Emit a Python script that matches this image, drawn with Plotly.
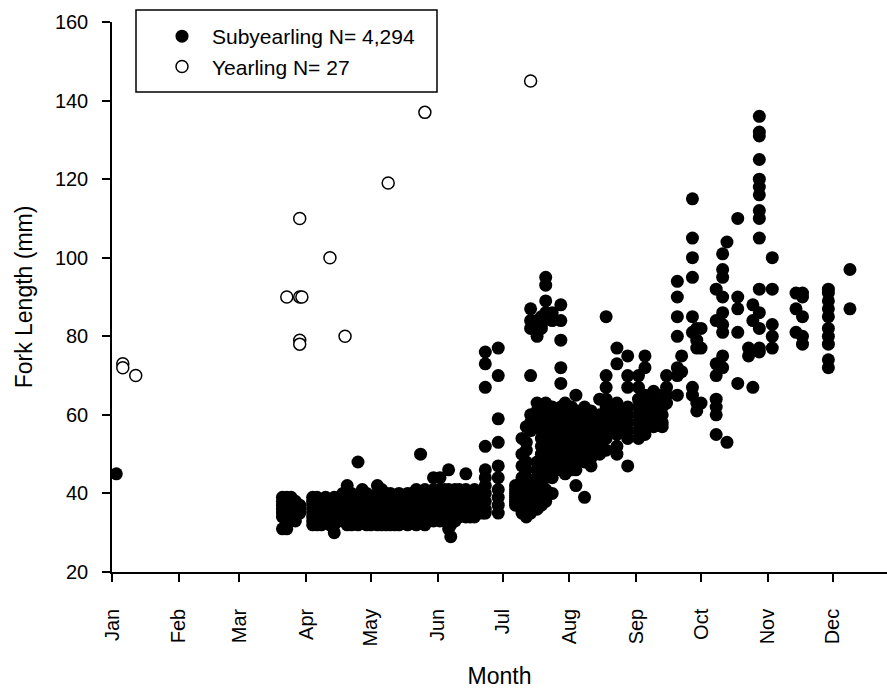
import plotly.graph_objects as go

# ---------------- data ----------------
month_ticks = ["2005-01-01", "2005-02-01", "2005-03-01", "2005-04-01", "2005-05-01", "2005-06-01",
               "2005-07-01", "2005-08-01", "2005-09-01", "2005-10-01", "2005-11-01", "2005-12-01"]
month_labels = ["Jan", "Feb", "Mar", "Apr", "May", "Jun", "Jul", "Aug", "Sep", "Oct", "Nov", "Dec"]
y_ticks = [20, 40, 60, 80, 100, 120, 140, 160]

# Subyearling: sampling dates and fork lengths (mm) at each date
sub_dates = [
    "2005-01-03",
    "2005-03-21", "2005-03-23", "2005-03-25", "2005-03-27", "2005-03-29",
    "2005-04-04", "2005-04-06", "2005-04-08", "2005-04-10", "2005-04-12", "2005-04-14",
    "2005-04-16", "2005-04-18", "2005-04-20", "2005-04-22", "2005-04-25", "2005-04-27",
    "2005-04-29", "2005-05-01", "2005-05-04", "2005-05-06", "2005-05-08", "2005-05-10",
    "2005-05-12", "2005-05-14", "2005-05-16", "2005-05-18", "2005-05-20", "2005-05-22",
    "2005-05-24", "2005-05-26", "2005-05-28", "2005-05-30", "2005-06-02", "2005-06-04",
    "2005-06-06", "2005-06-07", "2005-06-09", "2005-06-11", "2005-06-14", "2005-06-16",
    "2005-06-18", "2005-06-20", "2005-06-22", "2005-06-23", "2005-06-29",
    "2005-07-07", "2005-07-10", "2005-07-12", "2005-07-14", "2005-07-17", "2005-07-19",
    "2005-07-21", "2005-07-24", "2005-07-28", "2005-07-30", "2005-08-02", "2005-08-04",
    "2005-08-08", "2005-08-11", "2005-08-15",
    "2005-08-18", "2005-08-23", "2005-08-28", "2005-09-02", "2005-09-05", "2005-09-09",
    "2005-09-13", "2005-09-15",
    "2005-09-20", "2005-09-22", "2005-09-27", "2005-09-29", "2005-10-01", "2005-10-08",
    "2005-10-11", "2005-10-13", "2005-10-18", "2005-10-23", "2005-10-25", "2005-10-28",
    "2005-11-03", "2005-11-14", "2005-11-17", "2005-11-29", "2005-12-09",
]
sub_lengths = [
    [45],
    [39, 38, 37, 36, 35, 34, 31], [39, 38, 37, 36, 35, 34, 33, 31], [39, 38, 37, 36, 35, 34, 33],
    [38, 37, 36, 35, 34, 33], [37, 36, 35],
    [39, 38, 37, 36, 35, 34, 33, 32], [39, 38, 37, 36, 35, 34, 33, 32], [38, 37, 36, 35, 34, 33, 32],
    [39, 38, 37, 36, 35, 34, 33], [38, 37, 36, 35, 34, 33, 32], [39, 38, 37, 36, 35, 34, 33, 32, 30],
    [38, 37, 36, 35, 34, 33], [40, 39, 38, 37, 36, 35, 34, 33], [42, 39, 38, 37, 36, 35, 34, 33, 32],
    [40, 39, 38, 37, 36, 35, 34, 33, 32], [48, 39, 38, 37, 36, 35, 34, 33, 32], [41, 39, 38, 37, 36, 35, 34, 33],
    [40, 39, 38, 37, 36, 35, 34, 33, 32], [39, 38, 37, 36, 35, 34, 33, 32], [42, 40, 39, 38, 37, 36, 35, 34, 33, 32],
    [41, 39, 38, 37, 36, 35, 34, 33, 32], [40, 39, 38, 37, 36, 35, 34, 33, 32], [40, 38, 37, 36, 35, 34, 33, 32],
    [39, 38, 37, 36, 35, 34, 33, 32], [40, 39, 38, 37, 36, 35, 34, 33, 32], [39, 38, 37, 36, 35, 34, 33],
    [40, 39, 38, 37, 36, 35, 34, 33, 32], [40, 39, 38, 37, 36, 35, 34, 33], [41, 39, 38, 37, 36, 35, 34, 33, 32],
    [50, 40, 39, 38, 37, 36, 35, 34, 33], [41, 39, 38, 37, 36, 35, 34, 33, 32], [40, 39, 38, 37, 36, 35, 34, 33],
    [44, 41, 39, 38, 37, 36, 35, 34, 33], [44, 41, 40, 39, 38, 37, 36, 35, 34, 33], [41, 40, 39, 38, 37, 36, 35, 34, 33],
    [46, 41, 40, 39, 38, 37, 36, 35, 34, 33, 31], [40, 38, 36, 34, 32, 29], [41, 40, 39, 38, 37, 36, 35, 34, 33],
    [41, 40, 39, 38, 37, 36, 35, 34], [45, 41, 40, 39, 38, 37, 36, 35, 34], [40, 39, 38, 37, 36, 35, 34],
    [41, 40, 39, 38, 37, 36, 35, 34], [40, 39, 38, 37, 36, 35], [41, 40, 39, 38, 37, 36, 35],
    [76, 73, 67, 52, 46, 44, 42, 40, 38, 36, 35], [77, 70, 59, 53, 47, 44, 41, 39, 37, 35],
    [42, 41, 40, 39, 38, 37], [54, 50, 47, 44, 42, 40, 38, 36, 35], [57, 53, 51, 48, 46, 44, 42, 40, 38, 36, 34],
    [87, 84, 82, 70, 60, 58, 56, 43, 41, 39, 37, 35], [84, 83, 80, 63, 61, 59, 57, 48, 46, 44, 42, 40, 38, 36],
    [85, 83, 82, 60, 58, 56, 54, 52, 50, 48, 45, 43, 41, 39, 37],
    [95, 93, 89, 86, 63, 61, 59, 57, 55, 53, 51, 49, 46, 44, 41, 38],
    [86, 84, 62, 60, 58, 56, 54, 52, 50, 48, 46, 44, 40],
    [88, 84, 79, 72, 68, 62, 60, 58, 56, 54, 52, 50, 48, 46],
    [63, 61, 59, 57, 55, 53, 51, 49, 47, 45], [62, 60, 58, 56, 54, 52, 50, 48, 46],
    [65, 61, 59, 57, 55, 53, 51, 49, 46, 42], [62, 60, 58, 56, 54, 52, 50, 48, 39],
    [61, 59, 57, 55, 53, 51, 49, 47], [64, 60, 58, 56, 54, 52, 50],
    [85, 70, 67, 64, 62, 60, 58, 56, 54, 51], [77, 73, 63, 61, 59, 57, 55, 52, 50],
    [75, 70, 67, 62, 60, 58, 56, 54, 47], [70, 67, 64, 62, 60, 58, 56, 54],
    [75, 72, 65, 63, 61, 59, 57, 55], [66, 63, 61, 59, 58, 57], [65, 62, 60, 58, 57], [70, 67, 65, 63],
    [94, 90, 85, 80, 72, 70, 65], [75, 71], [115, 105, 100, 95, 85, 81, 67, 65], [82, 79, 77, 63, 61],
    [82, 77, 63], [92, 84, 73, 70, 64, 62, 60, 55], [101, 97, 95, 90, 86, 83, 81, 75, 72], [104, 53],
    [110, 90, 87, 81, 68], [77, 75], [88, 84, 67],
    [136, 132, 131, 125, 120, 118, 116, 112, 110, 105, 92, 86, 82, 77, 76],
    [100, 92, 83, 80, 77], [91, 87, 81], [91, 90, 85, 80, 78],
    [92, 91, 89, 87, 85, 82, 80, 78, 74, 72], [97, 87],
]

# Yearling
yr_dates = ["2005-01-06", "2005-01-06", "2005-01-12", "2005-03-23", "2005-03-29", "2005-03-29",
            "2005-03-29", "2005-03-29", "2005-03-30", "2005-04-12", "2005-04-19", "2005-05-09",
            "2005-05-26", "2005-07-14"]
yr_lengths = [73, 72, 70, 90, 90, 110, 79, 78, 90, 100, 80, 119, 137, 145]

sub_label = "Subyearling N= 4,294"
yr_label = "Yearling N= 27"
x_title = "Month"
y_title = "Fork Length (mm)"

# ---------------- figure ----------------
sub_x, sub_y = [], []
for d, vals in zip(sub_dates, sub_lengths):
    for v in vals:
        sub_x.append(d)
        sub_y.append(v)

FONT = "Liberation Sans, Arial, Helvetica, sans-serif"

fig = go.Figure()
fig.add_trace(go.Scatter(
    x=sub_x, y=sub_y, mode="markers", name=sub_label,
    marker=dict(symbol="circle", size=13, color="black", line=dict(width=0)),
))
fig.add_trace(go.Scatter(
    x=yr_dates, y=yr_lengths, mode="markers", name=yr_label,
    marker=dict(symbol="circle", size=12, color="white", line=dict(width=1.5, color="black")),
))

# plot area geometry (pixels)
L, R, T, B = 112, 0, 22, 122
W, H = 887, 694
pw, ph = W - L - R, H - T - B

def px_x(px):
    return (px - L) / pw

def px_y(py):
    return (H - B - py) / ph

fig.update_layout(
    width=W, height=H,
    margin=dict(l=L, r=R, t=T, b=B, pad=0),
    paper_bgcolor="white", plot_bgcolor="white",
    font=dict(family=FONT, color="black", size=20),
    showlegend=True,
    legend=dict(
        x=px_x(152), y=px_y(16), xanchor="left", yanchor="top",
        bgcolor="rgba(0,0,0,0)", borderwidth=0,
        font=dict(family=FONT, size=21, color="black"),
        itemwidth=50, tracegroupgap=0,
    ),
    shapes=[dict(
        type="rect", xref="paper", yref="paper",
        x0=px_x(136), x1=px_x(437), y0=px_y(92), y1=px_y(10),
        line=dict(color="black", width=1.5), fillcolor="rgba(0,0,0,0)", layer="above",
    )],
)

fig.update_xaxes(
    type="date", range=["2005-01-01", "2005-12-26 04:00"],
    tickmode="array", tickvals=month_ticks, ticktext=month_labels, tickangle=-90,
    ticks="outside", ticklen=8, tickwidth=1.5, tickcolor="black",
    showline=True, linecolor="black", linewidth=1.5,
    showgrid=False, zeroline=False,
    tickfont=dict(family=FONT, size=20, color="black"),
    ticklabelstandoff=19,
    title=dict(text=x_title, font=dict(family=FONT, size=23, color="black"), standoff=22),
    automargin=False,
)
fig.update_yaxes(
    range=[20, 160], tickmode="array", tickvals=y_ticks,
    ticks="outside", ticklen=8, tickwidth=1.5, tickcolor="black",
    showline=True, linecolor="black", linewidth=1.5,
    showgrid=False, zeroline=False,
    tickfont=dict(family=FONT, size=20, color="black"),
    ticklabelstandoff=10,
    title=dict(text=y_title, font=dict(family=FONT, size=23, color="black"), standoff=16),
    automargin=False,
)

fig.write_html("out.html")
